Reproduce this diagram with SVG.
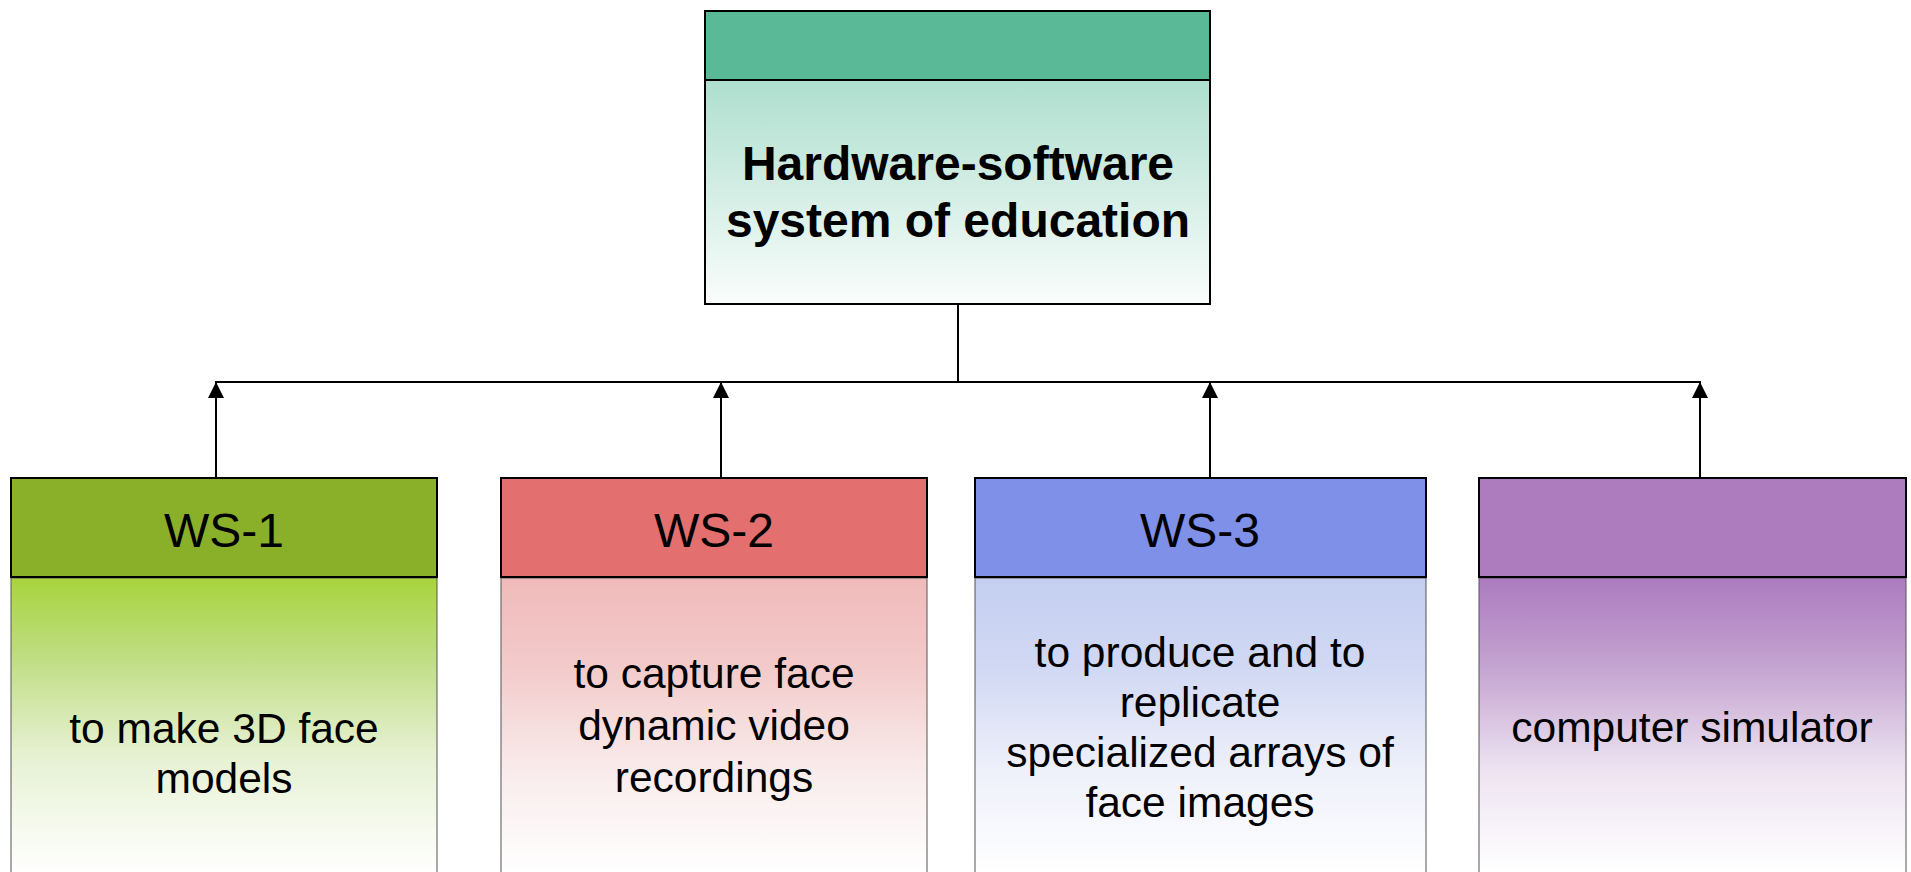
<svg xmlns="http://www.w3.org/2000/svg" width="1911" height="872" viewBox="0 0 1911 872">
<style>
.hdr{stroke:#000;stroke-width:2}
.body{stroke:#555;stroke-width:1}
.ttl{font-family:"Liberation Sans",Arial,sans-serif;font-weight:bold;font-size:48px;fill:#000;text-anchor:middle}
.lbl{font-family:"Liberation Sans",Arial,sans-serif;font-size:48px;fill:#000;text-anchor:middle}
.txt{font-family:"Liberation Sans",Arial,sans-serif;font-size:42.5px;fill:#000;text-anchor:middle}
.conn{stroke:#000;stroke-width:2;fill:none}
</style>
<defs>
<linearGradient id="gTop" x1="0" y1="0" x2="0" y2="1">
<stop offset="0" stop-color="#AEDFCE"/><stop offset="1" stop-color="#FAFDFC"/>
</linearGradient>
<linearGradient id="g1" gradientUnits="userSpaceOnUse" x1="0" y1="578" x2="0" y2="872">
<stop offset="0" stop-color="#A8D43C"/><stop offset="0.25" stop-color="#BDDC7E"/><stop offset="0.6" stop-color="#E6F1D2"/><stop offset="1" stop-color="#FFFFFF"/>
</linearGradient>
<linearGradient id="g2" gradientUnits="userSpaceOnUse" x1="0" y1="578" x2="0" y2="872">
<stop offset="0" stop-color="#F0BABA"/><stop offset="0.3" stop-color="#F3CACA"/><stop offset="0.65" stop-color="#F9EBEB"/><stop offset="1" stop-color="#FFFFFF"/>
</linearGradient>
<linearGradient id="g3" gradientUnits="userSpaceOnUse" x1="0" y1="578" x2="0" y2="872">
<stop offset="0" stop-color="#C4CEF0"/><stop offset="0.3" stop-color="#D0D8F3"/><stop offset="0.65" stop-color="#EEF0FA"/><stop offset="1" stop-color="#FFFFFF"/>
</linearGradient>
<linearGradient id="g4" gradientUnits="userSpaceOnUse" x1="0" y1="578" x2="0" y2="872">
<stop offset="0" stop-color="#AC7BBF"/><stop offset="0.3" stop-color="#C4A3D0"/><stop offset="0.65" stop-color="#EDE3F1"/><stop offset="1" stop-color="#FFFFFF"/>
</linearGradient>
<marker id="arr" viewBox="0 0 16 16" refX="15" refY="8" markerWidth="16" markerHeight="16" markerUnits="userSpaceOnUse" orient="auto">
<path d="M0,0 L16,8 L0,16 Z" fill="#000"/>
</marker>
</defs>

<g id="connectors">
<line class="conn" x1="958" y1="304" x2="958" y2="382"/>
<line class="conn" x1="215" y1="382" x2="1701" y2="382"/>
<line class="conn" x1="216" y1="478" x2="216" y2="383" marker-end="url(#arr)"/>
<line class="conn" x1="721" y1="478" x2="721" y2="383" marker-end="url(#arr)"/>
<line class="conn" x1="1210" y1="478" x2="1210" y2="383" marker-end="url(#arr)"/>
<line class="conn" x1="1700" y1="478" x2="1700" y2="383" marker-end="url(#arr)"/>
</g>

<g id="root">
<rect x="705" y="80" width="505" height="224" fill="url(#gTop)" class="hdr"/>
<rect x="705" y="11" width="505" height="69" fill="#5ABA98" class="hdr"/>
<text class="ttl" x="958" y="180">Hardware-software</text>
<text class="ttl" x="958" y="237">system of education</text>
</g>

<g id="ws1">
<rect x="11" y="578" width="426" height="310" fill="url(#g1)" class="body"/>
<rect x="11" y="478" width="426" height="99" fill="#8AB02A" class="hdr"/>
<text class="lbl" x="224" y="547">WS-1</text>
<text class="txt" x="224" y="743">to make 3D face</text>
<text class="txt" x="224" y="793">models</text>
</g>

<g id="ws2">
<rect x="501" y="578" width="426" height="310" fill="url(#g2)" class="body"/>
<rect x="501" y="478" width="426" height="99" fill="#E36F6F" class="hdr"/>
<text class="lbl" x="714" y="547">WS-2</text>
<text class="txt" x="714" y="688">to capture face</text>
<text class="txt" x="714" y="740">dynamic video</text>
<text class="txt" x="714" y="792">recordings</text>
</g>

<g id="ws3">
<rect x="975" y="578" width="451" height="310" fill="url(#g3)" class="body"/>
<rect x="975" y="478" width="451" height="99" fill="#7F90E8" class="hdr"/>
<text class="lbl" x="1200" y="547">WS-3</text>
<text class="txt" x="1200" y="667">to produce and to</text>
<text class="txt" x="1200" y="717">replicate</text>
<text class="txt" x="1200" y="767">specialized arrays of</text>
<text class="txt" x="1200" y="817">face images</text>
</g>

<g id="ws4">
<rect x="1479" y="578" width="427" height="310" fill="url(#g4)" class="body"/>
<rect x="1479" y="478" width="427" height="99" fill="#AC7CBF" class="hdr"/>
<text class="txt" x="1692" y="742">computer simulator</text>
</g>
</svg>
